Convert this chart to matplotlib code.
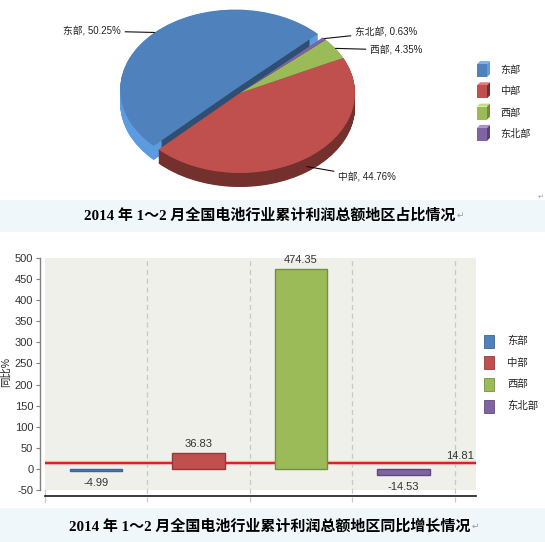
import numpy as np
import matplotlib
matplotlib.use('Agg')
import matplotlib.pyplot as plt
from matplotlib.patches import Polygon, Rectangle

# ---------------- data ----------------
regions = ['东部', '中部', '西部', '东北部']
share = [50.25, 44.76, 4.35, 0.63]
growth = [-4.99, 36.83, 474.35, -14.53]
overall_growth = 14.81
yticks = [-50, 0, 50, 100, 150, 200, 250, 300, 350, 400, 450, 500]
ylabel = '同比%'
caption_pie = '2014 年 1～2 月全国电池行业累计利润总额地区占比情况'
caption_bar = '2014 年 1～2 月全国电池行业累计利润总额地区同比增长情况'

# ---------------- style ----------------
top_colors = ['#4F81BD', '#C0504D', '#9BBB59', '#8064A2']
side_colors = ['#5C9BE0', '#74302D', '#6F8C38', '#5A437C']
cut_colors = ['#1E2F45', '#74302D', '#3E5020', '#3A2A52']
light_colors = ['#7FB0E8', '#E07A77', '#C4DC84', '#A890C8']
edge_colors = ['#3E6594', '#8E3B39', '#748F3E', '#5E4A7A']
band = '#F0F7FA'

W, H = 545, 542
plt.rcParams['font.family'] = ['Liberation Sans', 'Noto Sans CJK SC', 'DejaVu Sans']
plt.rcParams['axes.unicode_minus'] = False

fig = plt.figure(figsize=(W / 100, H / 100), dpi=100)
fig.patch.set_facecolor('white')


def fx(px):
    return px / W


def fy(py):
    return 1 - py / H


# ---------------- pie (pseudo 3D) ----------------
axp = fig.add_axes([0, fy(200), 1, 200 / H])
cx, cy, rx, ry = 240, 93, 115, 80
thick = 14 / ry
start = 44
explode = [0.06, 0, 0, 0]
depths = np.linspace(thick, 0, 30)[:-1]
for d in depths:
    axp.pie(share, startangle=start, colors=side_colors, explode=explode,
            center=(0, -d), wedgeprops=dict(linewidth=0))
    axp.pie(share, startangle=start, colors=cut_colors, explode=explode, radius=0.9,
            center=(0, -d), wedgeprops=dict(linewidth=0))
wedges, _ = axp.pie(share, startangle=start, colors=top_colors, explode=explode,
                    wedgeprops=dict(linewidth=0))
axp.set_aspect('auto')
axp.set_xlim(-cx / rx, (W - cx) / rx)
axp.set_ylim((cy - 200) / ry, cy / ry)
axp.axis('off')

label_pos = [(121, 31, 'right'), (338, 177, 'left'), (370, 50, 'left'), (355, 32, 'left')]
for i, w in enumerate(wedges):
    th = np.deg2rad((w.theta1 + w.theta2) / 2)
    px_ = w.center[0] + np.cos(th)
    py_ = w.center[1] + np.sin(th)
    if i == 1:
        py_ -= thick * 0.6
    tx, ty, ha = label_pos[i]
    axp.annotate(f'{regions[i]}, {share[i]:.2f}%', xy=(px_, py_), xycoords='data',
                 xytext=(fx(tx), fy(ty)), textcoords='figure fraction',
                 ha=ha, va='center', fontsize=7, color='#222222',
                 arrowprops=dict(arrowstyle='-', color='#111111', lw=0.8,
                                 shrinkA=1, shrinkB=0),
                 annotation_clip=False)

# ---------------- bar chart ----------------
left_px, right_px, top_px, bot_px = 44.5, 476, 258, 490
cat_w = 102.6
axb = fig.add_axes([fx(left_px), fy(bot_px), (right_px - left_px) / W, (bot_px - top_px) / H])
axb.set_facecolor('#F0F0EA')
xpos = np.arange(len(regions)) + 0.5
bars = axb.bar(xpos, growth, width=0.51, color=top_colors, edgecolor=edge_colors,
               linewidth=1, zorder=2)
axb.set_xlim(0, (right_px - left_px) / cat_w)
axb.set_ylim(-50, 500)

for b in range(1, len(regions) + 1):
    axb.axvline(b, ymin=-0.052, ymax=1, color='#C8C8C8', ls=(0, (4, 3)), lw=0.9,
                clip_on=False, zorder=0.5)
axb.axvline(0, ymin=-0.052, ymax=0, color='#C8C8C8', lw=0.9, clip_on=False)

axb.axhline(overall_growth, color='#F4A9A7', lw=3.2, alpha=0.6, zorder=1.4)
axb.axhline(overall_growth, color='#E0201C', lw=1.6, zorder=1.5)
axb.annotate(f'{overall_growth:.2f}', xy=(1, overall_growth),
             xycoords=('axes fraction', 'data'), xytext=(-1.5, 1.5),
             textcoords='offset points', ha='right', va='bottom', fontsize=8,
             color='#333333')

for xv, v in zip(xpos, growth):
    if v >= 0:
        axb.annotate(f'{v:.2f}', xy=(xv, v), xytext=(0, 3), textcoords='offset points',
                     ha='center', va='bottom', fontsize=8, color='#333333')
    else:
        axb.annotate(f'{v:.2f}', xy=(xv, v), xytext=(0, -5), textcoords='offset points',
                     ha='center', va='top', fontsize=8, color='#333333')

for s in ['top', 'right']:
    axb.spines[s].set_visible(False)
axb.spines['left'].set_position(('outward', 3.6))
axb.spines['left'].set_color('#808080')
axb.spines['left'].set_linewidth(1)
axb.spines['bottom'].set_position(('outward', 4.3))
axb.spines['bottom'].set_color('#1A1A1A')
axb.spines['bottom'].set_linewidth(1.2)
axb.set_xticks([])
axb.set_yticks(yticks)
axb.set_yticklabels([str(t) for t in yticks])
axb.tick_params(axis='y', direction='out', length=3, width=0.8, color='#808080',
                labelsize=8, pad=1.5, labelcolor='#333333')

# ---------------- overlay (pixel coords) ----------------
axo = fig.add_axes([0, 0, 1, 1], zorder=5)
axo.set_xlim(0, W)
axo.set_ylim(H, 0)
axo.axis('off')

for y0, y1 in [(200, 232), (508, 542)]:
    axo.add_patch(Rectangle((0, y0), W, y1 - y0, facecolor=band, edgecolor='none', zorder=0))

# pie legend with 3D boxes
for i, name in enumerate(regions):
    c = 70 + i * 21.3
    x0, x1, dx, dy = 477, 487, 3, 3
    axo.add_patch(Polygon([(x0, c - 6), (x0 + dx, c - 6 - dy), (x1 + dx, c - 6 - dy), (x1, c - 6)],
                          closed=True, facecolor=light_colors[i], edgecolor='none'))
    axo.add_patch(Polygon([(x1, c - 6), (x1 + dx, c - 6 - dy), (x1 + dx, c + 7 - dy), (x1, c + 7)],
                          closed=True, facecolor=side_colors[i], edgecolor='none'))
    axo.add_patch(Rectangle((x0, c - 6), x1 - x0, 13, facecolor=top_colors[i], edgecolor='none'))
    axo.text(500, c, name, ha='left', va='center', fontsize=7.3, color='#222222')

# bar legend
for i, name in enumerate(regions):
    c = 341 + i * 21.7
    axo.add_patch(Rectangle((484, c - 6.5), 10, 13, facecolor=top_colors[i],
                            edgecolor=edge_colors[i], lw=0.6))
    axo.text(507, c, name, ha='left', va='center', fontsize=7.5, color='#222222')

# y label
axo.text(6, 372, ylabel, rotation=90, ha='center', va='center', fontsize=7.5, color='#222222')

# captions
cap_font = ['Liberation Serif', 'Noto Sans CJK SC', 'DejaVu Sans']
for txt, yc in [(caption_pie, 215), (caption_bar, 526)]:
    t = axo.text(270, yc, txt, ha='center', va='center', fontsize=10.8,
                 fontweight='bold', family=cap_font, color='#000000')
    axo.annotate('↵', xy=(1, 0.15), xycoords=t, xytext=(0.5, 0), textcoords='offset points',
                 ha='left', va='bottom', fontsize=6.5, color='#9A9A9A', family=['DejaVu Sans'])
axo.text(541, 197, '↵', ha='center', va='center', fontsize=5, color='#A0A0A0',
         family=['DejaVu Sans'])

fig.savefig('out.png', dpi=100)
